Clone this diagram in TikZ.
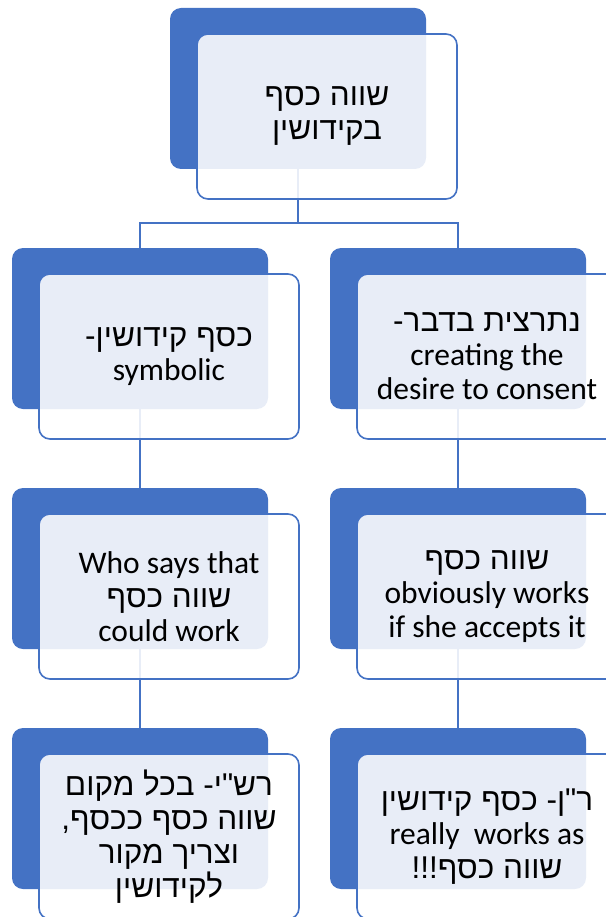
\documentclass[tikz,border=0pt]{standalone}
\usepackage{fontspec}
\setmainfont{Carlito}
\newfontfamily\hebfont[Script=Hebrew]{Liberation Sans}
\usetikzlibrary{positioning}
\TeXXeTstate=1
\definecolor{accent}{HTML}{4472C4}
\newcommand{\hebl}[1]{{\hebfont\beginR #1\endR}}

\begin{document}
\begin{tikzpicture}[x=1pt,y=-1pt,node distance=240pt,on grid,
    back/.style={rectangle,rounded corners=11pt,fill=accent,minimum width=256pt,minimum height=161pt,inner sep=0pt},
    front/.style={rectangle,rounded corners=11pt,draw=accent,line width=1.6pt,fill=white,fill opacity=0.88,text opacity=1,
      minimum width=260pt,minimum height=165pt,inner sep=0pt,align=center,font=\fontsize{31.5}{34}\selectfont},
    link/.style={draw=accent,line width=1.6pt}]
  \useasboundingbox (0,0) rectangle (605,917);
  \node[back] (b_top) at (298,88.5) {};
  \node[back] (b_l1) [below left=240pt and 158pt of b_top] {};
  \node[back] (b_r1) [below right=240pt and 160pt of b_top] {};
  \node[back] (b_l2) [below=of b_l1] {};
  \node[back] (b_r2) [below=of b_r1] {};
  \node[back] (b_l3) [below=of b_l2] {};
  \node[back] (b_r3) [below=of b_r2] {};
  \path[link]
    (b_top.south) -- ++(0,54) -| (b_l1.north)
    (b_top.south) -- ++(0,54) -| (b_r1.north)
    (b_l1) edge (b_l2)
    (b_l2) edge (b_l3)
    (b_r1) edge (b_r2)
    (b_r2) edge (b_r3);
  \node[front] (f_top) [below right=28pt and 29pt of b_top] {\hebl{שווה כסף}\\ \hebl{בקידושין}};
  \node[front] (f_l1) [below right=28pt and 29pt of b_l1] {\hebl{כסף קידושין-}\\ symbolic};
  \node[front] (f_r1) [below right=28pt and 29pt of b_r1] {\hebl{נתרצית בדבר-}\\ creating the\\ desire to consent};
  \node[front] (f_l2) [below right=28pt and 29pt of b_l2] {Who says that\\ \hebl{שווה כסף}\\ could work};
  \node[front] (f_r2) [below right=28pt and 29pt of b_r2] {\hebl{שווה כסף}\\ obviously works\\ if she accepts it};
  \node[front] (f_l3) [below right=28pt and 29pt of b_l3] {\hebl{רש"י- בכל מקום}\\ \hebl{שווה כסף ככסף,}\\ \hebl{וצריך מקור}\\ \hebl{לקידושין}};
  \node[front] (f_r3) [below right=28pt and 29pt of b_r3] {\hebl{ר"ן- כסף קידושין}\\ really\ \ works as\\ \hebl{שווה כסף!!!}};
\end{tikzpicture}
\end{document}
